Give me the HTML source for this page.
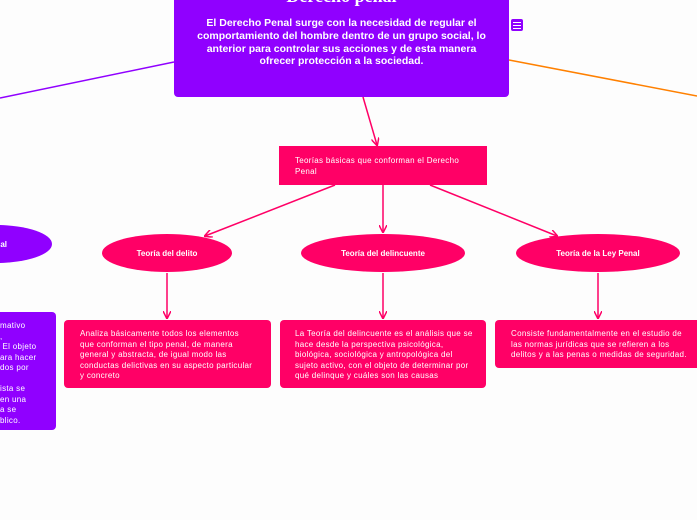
<!DOCTYPE html>
<html><head><meta charset="utf-8"><style>
body{margin:0;width:697px;height:520px;background:#fdfdfd;position:relative;overflow:hidden;font-family:"Liberation Sans",sans-serif;color:#fff}
.a{position:absolute}
.box{position:absolute;border-radius:4px;box-sizing:border-box}
.pk{background:#ff0066}
.pu{background:#9000ff}
.t{font-size:8px;line-height:10.5px;letter-spacing:0.3px}
.el{position:absolute;border-radius:50%;display:flex;align-items:center;justify-content:center;font-size:8px;font-weight:bold}
</style></head><body>
<svg class="a" style="left:0;top:0" width="697" height="520">
<defs><marker id="ah" markerWidth="8" markerHeight="8" refX="7" refY="4" orient="auto" markerUnits="userSpaceOnUse"><path d="M0,0 L8,4 L0,8" fill="none" stroke="#ff0066" stroke-width="1.5"/></marker></defs>
<line x1="174" y1="62" x2="0" y2="98" stroke="#9000ff" stroke-width="1.5"/>
<line x1="509" y1="60" x2="697" y2="96" stroke="#ff8000" stroke-width="1.5"/>
<g stroke="#ff0066" stroke-width="1.5" marker-end="url(#ah)">
<line x1="363" y1="97" x2="377" y2="145"/>
<line x1="335" y1="185" x2="205" y2="236"/>
<line x1="383" y1="185" x2="383" y2="232"/>
<line x1="430" y1="185" x2="557" y2="236"/>
<line x1="167" y1="273" x2="167" y2="318"/>
<line x1="383" y1="273" x2="383" y2="318"/>
<line x1="598" y1="273" x2="598" y2="318"/>
</g>
</svg>
<div class="box pu" style="left:174px;top:-10px;width:335px;height:107px"></div>
<div class="a" style="left:174px;top:-14px;width:335px;text-align:center;font-family:'Liberation Serif',serif;font-weight:bold;font-size:18px">Derecho penal</div>
<div class="a" style="left:196px;top:17px;width:291px;text-align:center;font-size:10.5px;font-weight:bold;line-height:12.8px">El Derecho Penal surge con la necesidad de regular el comportamiento del hombre dentro de un grupo social, lo anterior para controlar sus acciones y de esta manera ofrecer protección a la sociedad.</div>
<div class="box pu" style="left:511px;top:19px;width:12px;height:12px;border-radius:2px"></div>
<div class="a" style="left:513px;top:22px;width:8px;height:1px;background:#fff;box-shadow:0 3px #fff,0 6px #fff"></div>
<div class="box pk" style="left:279px;top:146px;width:208px;height:39px;border-radius:0"></div>
<div class="a t" style="left:295px;top:156px;width:175px">Teorías básicas que conforman el Derecho Penal</div>
<div class="el pu" style="left:-60px;top:225px;width:112px;height:38px;justify-content:flex-end;padding-right:45px;box-sizing:border-box">al</div>
<div class="el pk" style="left:102px;top:234px;width:130px;height:38px">Teoría del delito</div>
<div class="el pk" style="left:301px;top:234px;width:164px;height:38px">Teoría del delincuente</div>
<div class="el pk" style="left:516px;top:234px;width:164px;height:38px">Teoría de la Ley Penal</div>
<div class="box pu" style="left:-10px;top:312px;width:66px;height:118px"></div>
<div class="a t" style="left:0;top:321px;width:56px;white-space:pre">mativo
,
 El objeto
ara hacer
dos por

ista se
en una
a se
blico.</div>
<div class="box pk" style="left:64px;top:320px;width:207px;height:68px"></div>
<div class="a t" style="left:80px;top:329px;width:190px;white-space:nowrap">Analiza básicamente todos los elementos<br>que conforman el tipo penal, de manera<br>general y abstracta, de igual modo las<br>conductas delictivas en su aspecto particular<br>y concreto</div>
<div class="box pk" style="left:280px;top:320px;width:206px;height:68px"></div>
<div class="a t" style="left:295px;top:329px;width:180px">La Teoría del delincuente es el análisis que se hace desde la perspectiva psicológica, biológica, sociológica y antropológica del sujeto activo, con el objeto de determinar por qué delinque y cuáles son las causas</div>
<div class="box pk" style="left:495px;top:320px;width:210px;height:48px"></div>
<div class="a t" style="left:511px;top:329px;width:180px">Consiste fundamentalmente en el estudio de las normas jurídicas que se refieren a los delitos y a las penas o medidas de seguridad.</div>
</body></html>
